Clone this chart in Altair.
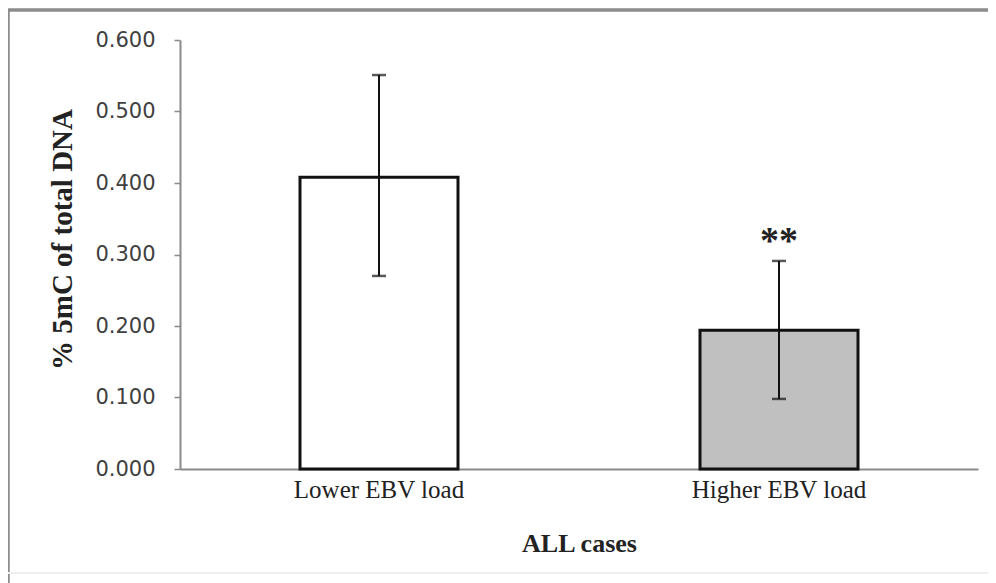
import altair as alt
import pandas as pd

categories = ["Lower EBV load", "Higher EBV load"]
means = [0.408, 0.194]
err_low = [0.270, 0.098]
err_high = [0.551, 0.291]
fills = ["#ffffff", "#c0c0c0"]
marks = ["", "**"]
y_ticks = [0.0, 0.1, 0.2, 0.3, 0.4, 0.5, 0.6]

df = pd.DataFrame({
    "cat": categories,
    "mean": means,
    "lo": err_low,
    "hi": err_high,
    "fill": fills,
    "mark": marks,
})

W, H = 798, 429

x_enc = alt.X(
    "cat:N",
    sort=categories,
    scale=alt.Scale(paddingInner=0.605, paddingOuter=0.3),
    axis=alt.Axis(
        title="ALL cases",
        labelAngle=0,
        labelFont="Liberation Serif",
        labelFontSize=25,
        labelColor="#222222",
        labelPadding=8,
        ticks=False,
        domainColor="#8a8a8a",
        domainWidth=2,
        titleFont="Liberation Serif",
        titleFontSize=26,
        titleFontWeight="bold",
        titleColor="#222222",
        titleX=W / 2,
        titleY=74,
        titleBaseline="middle",
    ),
)

y_scale = alt.Scale(domain=[0, 0.6], nice=False)

base = alt.Chart(df)

bars = base.mark_bar(stroke="#111111", strokeWidth=3).encode(
    x=x_enc,
    y=alt.Y(
        "mean:Q",
        scale=y_scale,
        axis=alt.Axis(
            title="% 5mC of total DNA",
            values=y_ticks,
            format=".3f",
            grid=False,
            labelFont="DejaVu Sans",
            labelFontSize=21,
            labelColor="#404040",
            labelPadding=19,
            tickSize=6,
            tickColor="#8a8a8a",
            tickWidth=1.5,
            domainColor="#8a8a8a",
            domainWidth=2,
            titleFont="Liberation Serif",
            titleFontSize=29,
            titleFontWeight="bold",
            titleColor="#222222",
            titleX=-118,
            titleY=199,
            titleAngle=-90,
            titleBaseline="middle",
        ),
    ),
    fill=alt.Fill("fill:N", scale=None),
)

err = base.mark_rule(color="#111111", strokeWidth=2).encode(
    x=alt.X("cat:N", sort=categories),
    y="lo:Q",
    y2="hi:Q",
)

caps = base.mark_tick(color="#111111", thickness=2.5, size=14).encode(
    x=alt.X("cat:N", sort=categories),
    y="hi:Q",
)
caps_lo = base.mark_tick(color="#111111", thickness=2.5, size=14).encode(
    x=alt.X("cat:N", sort=categories),
    y="lo:Q",
)

stars = base.mark_text(
    font="Liberation Serif", fontSize=38, fontWeight="bold", color="#222222",
    baseline="middle", dy=-19,
).encode(
    x=alt.X("cat:N", sort=categories),
    y="hi:Q",
    text="mark:N",
)

frame_top = alt.Chart(df).mark_rule(color="#8c8c8c", strokeWidth=3).encode(
    x=alt.value(-172), x2=alt.value(830), y=alt.value(-30)
)
frame_left = alt.Chart(df).mark_rule(color="#8c8c8c", strokeWidth=3).encode(
    x=alt.value(-172), y=alt.value(-30), y2=alt.value(545)
)
frame_bottom = alt.Chart(df).mark_rule(color="#eeeeee", strokeWidth=2).encode(
    x=alt.value(-172), x2=alt.value(830), y=alt.value(533)
)

chart = alt.layer(
    frame_top, frame_left, frame_bottom, bars, err, caps, caps_lo, stars
).properties(
    width=W,
    height=H,
    background="#ffffff",
    autosize=alt.AutoSizeParams(type="none"),
    padding={"left": 172, "top": 32, "right": 10, "bottom": 120},
).configure_view(strokeWidth=0)

chart.save("out.html", embed_options={"renderer": "svg", "actions": False})
